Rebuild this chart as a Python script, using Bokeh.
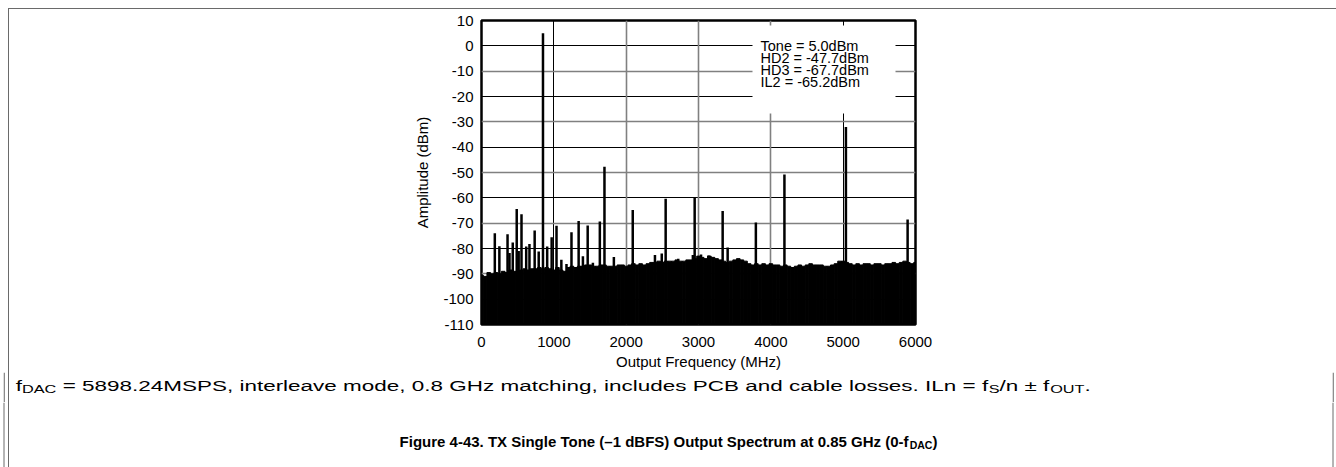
from bokeh.plotting import figure
from bokeh.models import Range1d, FixedTicker, Grid, Label, BoxAnnotation, CustomJSTickFormatter, Div
from bokeh.core.properties import value
from bokeh.embed import file_html
from bokeh.resources import INLINE

# ---------------- data ----------------
x_ticks = [0, 1000, 2000, 3000, 4000, 5000, 6000]
y_ticks = [10, 0, -10, -20, -30, -40, -50, -60, -70, -80, -90, -100, -110]

floor_freq = list(range(0, 6001, 50))
floor_db = [
    -90.5, -91.0, -89.5, -90.0, -89.5, -90.0, -89.0, -89.5, -88.5, -89.0,
    -89.0, -88.5, -88.0, -88.5, -88.0, -88.0, -87.5, -88.0, -87.5, -88.0,
    -88.5, -87.5, -88.5, -89.0, -87.5, -87.0, -87.5, -87.0, -87.0, -86.5,
    -86.5, -87.0, -87.0, -86.5, -86.5, -87.0, -87.0, -87.0, -86.5, -86.5,
    -87.0, -86.5, -86.0, -86.5, -86.0, -86.5, -86.0, -85.5, -85.5, -85.0,
    -85.5, -85.0, -85.0, -85.0, -84.5, -85.0, -85.0, -84.5, -84.5, -84.0,
    -83.0, -83.5, -84.0, -83.0, -83.5, -84.0, -84.5, -85.0, -85.5, -85.0,
    -84.5, -84.0, -84.5, -85.0, -86.0, -86.5, -86.0, -86.5, -86.0, -86.5,
    -86.0, -86.5, -86.5, -87.0, -86.5, -87.0, -87.5, -87.0, -86.5, -87.0,
    -86.5, -86.0, -86.5, -86.5, -86.5, -87.0, -87.0, -86.5, -86.0, -85.0,
    -85.0, -85.5, -86.0, -86.5, -86.0, -86.5, -86.0, -86.0, -86.5, -86.0,
    -86.0, -86.5, -86.0, -86.0, -85.5, -86.0, -85.5, -85.0, -85.5, -86.0,
    -85.5,
]

spur_freq = [184, 247, 360, 387, 432, 487, 514, 553, 618, 663, 735, 791, 850,
             908, 970, 1037, 1104, 1175, 1244, 1343, 1402, 1468, 1540, 1636,
             1700, 1830, 2091, 2398, 2492, 2546, 2720, 2922, 2947, 3035, 3140,
             3334, 3403, 3793, 4188, 4985, 5038, 5891]
spur_db = [-74.0, -79.1, -74.4, -81.8, -77.6, -64.4, -81.0, -66.5, -79.2, -78.2,
           -72.9, -81.2, 5.0, -79.2, -75.6, -71.0, -84.4, -86.1, -73.6, -69.1,
           -83.1, -70.9, -85.6, -69.3, -47.7, -83.4, -64.8, -82.6, -82.0, -60.4,
           -84.0, -82.6, -60.1, -82.4, -82.8, -65.2, -79.6, -69.7, -50.8, -85.0,
           -32.0, -68.6]

legend_lines = ["Tone = 5.0dBm", "HD2 = -47.7dBm", "HD3 = -67.7dBm", "IL2 = -65.2dBm"]

caption1 = [("f", False), ("DAC", True),
            (" = 5898.24MSPS, interleave mode, 0.8 GHz matching, includes PCB and cable losses. ILn = f", False),
            ("S", True), ("/n ± f", False), ("OUT", True), (".", False)]
caption2 = [("Figure 4-43. TX Single Tone (–1 dBFS) Output Spectrum at 0.85 GHz (0-f", False),
            ("DAC", True), (")", False)]

# ---------------- layout helpers ----------------
FONT = "Liberation Sans"
W = 1336
H1 = 372                       # chart part height
H2 = 30                        # caption-1 strip (372..402)
H3 = 467 - H1 - H2             # caption-2 strip (402..467)
FL, FR, FT, FB = 481, 915, 20, 327          # frame in page pixels
X0, X1, Y0, Y1 = 0, 6000, -110, 10
BORDER = "#6a6a6a"


def dx(px):
    return X0 + (px - FL) / (FR - FL) * (X1 - X0)


def dy(py):
    return Y1 - (py - FT) / (FB - FT) * (Y1 - Y0)


REG = {' ': 278, '(': 333, ')': 333, ',': 278, '-': 333, '.': 278, '/': 278, '=': 584,
       'A': 667, 'B': 667, 'C': 722, 'D': 722, 'F': 611, 'G': 778, 'H': 722, 'I': 278,
       'L': 556, 'M': 833, 'O': 778, 'P': 667, 'S': 667, 'T': 611, 'U': 722, 'X': 667,
       'a': 556, 'b': 556, 'c': 500, 'd': 556, 'e': 556, 'f': 278, 'g': 556, 'h': 556,
       'i': 222, 'l': 222, 'm': 833, 'n': 556, 'o': 556, 'p': 556, 'q': 556, 'r': 333,
       's': 500, 't': 278, 'u': 556, 'v': 500, 'y': 500, 'z': 500, '±': 584, '–': 556}
BOLD = {' ': 278, '(': 333, ')': 333, ',': 278, '-': 333, '.': 278, '/': 278,
        'A': 722, 'B': 722, 'C': 722, 'D': 722, 'F': 611, 'G': 778, 'H': 722, 'O': 778,
        'S': 667, 'T': 611, 'U': 722, 'X': 667, 'a': 556, 'c': 556, 'd': 611, 'e': 556,
        'f': 333, 'g': 611, 'i': 278, 'l': 278, 'm': 889, 'n': 611, 'o': 611, 'p': 611,
        'r': 389, 's': 556, 't': 333, 'u': 611, 'z': 500, '–': 556}


def tw(s, size, bold=False):
    tab = BOLD if bold else REG
    return sum(tab.get(c, 556) for c in s) * size / 1000.0


# ---------------- chart figure ----------------
p = figure(width=W, height=H1, output_backend="svg", toolbar_location=None,
           x_range=Range1d(X0, X1), y_range=Range1d(Y0, Y1),
           min_border_left=FL, min_border_right=W - FR,
           min_border_top=FT, min_border_bottom=H1 - FB)
p.background_fill_color = "white"
p.border_fill_color = "white"
p.outline_line_color = "black"
p.outline_line_width = 2.5

p.xgrid.ticker = FixedTicker(ticks=[1000, 5000])
p.xgrid.grid_line_color = "black"
p.xgrid.grid_line_width = 1
p.ygrid.ticker = FixedTicker(ticks=[0, -20, -40, -60, -80, -100])
p.ygrid.grid_line_color = "black"
p.ygrid.grid_line_width = 1
p.add_layout(Grid(dimension=0, ticker=FixedTicker(ticks=[2000, 3000, 4000]),
                  grid_line_color="#808080", grid_line_width=1.6))
p.add_layout(Grid(dimension=1, ticker=FixedTicker(ticks=[-10, -30, -50, -70, -90]),
                  grid_line_color="#808080", grid_line_width=1.6))

for ax in (p.xaxis[0], p.yaxis[0]):
    ax.axis_line_color = None
    ax.major_tick_line_color = None
    ax.minor_tick_line_color = None
    ax.major_tick_out = 0
    ax.major_tick_in = 0
    ax.major_label_text_font = FONT
    ax.major_label_text_font_size = "15px"
    ax.major_label_text_color = "black"
    ax.axis_label_text_font = FONT
    ax.axis_label_text_font_size = "15px"
    ax.axis_label_text_font_style = "normal"
    ax.axis_label_text_color = "black"
    ax.formatter = CustomJSTickFormatter(code="return tick.toFixed(0);")

p.xaxis.ticker = FixedTicker(ticks=x_ticks)
p.yaxis.ticker = FixedTicker(ticks=y_ticks)
p.xaxis.axis_label = "Output Frequency (MHz)"
p.yaxis.axis_label = "Amplitude (dBm)"
p.xaxis.major_label_standoff = 12
p.xaxis.axis_label_standoff = 3
p.yaxis.major_label_standoff = 8
p.yaxis.axis_label_standoff = 9

p.vbar(x=floor_freq, top=floor_db, bottom=-110, width=50, color="black")
p.segment(x0=spur_freq, y0=[-110] * len(spur_freq), x1=spur_freq, y1=spur_db,
          line_color="black", line_width=2.5)

p.add_layout(BoxAnnotation(left=dx(752), right=dx(895), top=dy(25), bottom=dy(114),
                           fill_color="white", fill_alpha=1.0, line_color=None))
for i, t in enumerate(legend_lines):
    p.add_layout(Label(x=dx(760), y=dy(45.3 + 12.25 * i), text=t, text_font=FONT,
                       text_font_size="14.5px", text_baseline="middle", text_color="black"))


def strip(width, height, top, xmax):
    f = figure(width=width, height=height, output_backend="svg", toolbar_location=None,
               x_range=Range1d(0, xmax), y_range=Range1d(top + height, top),
               x_axis_location=None, y_axis_location=None,
               min_border=0, min_border_left=0, min_border_right=0,
               min_border_top=0, min_border_bottom=0)
    f.grid.visible = False
    f.outline_line_color = None
    f.background_fill_color = "white"
    f.border_fill_color = "white"
    return f


def draw_pieces(fig, items, size, bold):
    fig.text(x=[a[1] for a in items], y=[a[2] for a in items], text=[a[0] for a in items],
             text_font=value(FONT), text_font_size=value(f"{size}px"),
             text_font_style="bold" if bold else "normal",
             text_baseline="alphabetic", text_align="left", text_color="black")


def lay_out(pieces, x, base, size, sub_size, sub_drop, bold):
    """Place run-on pieces; leading blanks are turned into an x advance (SVG drops them)."""
    main, subs = [], []
    for t, s in pieces:
        sz = sub_size if s else size
        lead = len(t) - len(t.lstrip(" "))
        x += tw(" " * lead, sz, bold)
        body = t.lstrip(" ")
        if s:
            subs.append((body, x, base + sub_drop))
        else:
            main.append((body, x, base))
        x += tw(body, sz, bold)
    return main, subs


# ---------------- caption 1 strip (text horizontally widened like the reference) --------
C1_SIZE, C1_SUB = 14.5, 10.5
C1_X0, C1_X1, C1_BASE = 15.0, 1090.0, 385.0
nat = sum(tw(t, C1_SUB if s else C1_SIZE) for t, s in caption1)
SX = (C1_X1 - C1_X0) / nat
w1 = int(W / SX)
# the canvas is sized from the (scaled) host box, so one data unit = one canvas pixel
q1 = strip(w1, H2, H1, w1 * SX)
q1.styles = {"transform": f"scaleX({SX:.4f})", "transform-origin": "0 0", "overflow": "hidden"}
q1.segment(x0=[3.5 / SX, 1332.5 / SX], y0=[H1, H1], x1=[3.5 / SX, 1332.5 / SX],
           y1=[H1 + H2, H1 + H2], line_color=BORDER, line_width=1 / SX)
m1, s1 = lay_out(caption1, C1_X0 / SX, C1_BASE, C1_SIZE, C1_SUB, 4, False)
draw_pieces(q1, m1, C1_SIZE, False)
draw_pieces(q1, s1, C1_SUB, False)

# ---------------- caption 2 strip ----------------
q2 = strip(W, H3, H1 + H2, W)
q2.segment(x0=[3.5, 1332.5], y0=[H1 + H2, H1 + H2], x1=[3.5, 1332.5], y1=[467, 467],
           line_color=BORDER, line_width=1)
C2_SIZE, C2_SUB, C2_CX, C2_BASE = 15, 10.5, 668.0, 441.0
total = sum(tw(t, C2_SUB if s else C2_SIZE, True) for t, s in caption2)
m2, s2 = lay_out(caption2, C2_CX - total / 2, C2_BASE, C2_SIZE, C2_SUB, 3.5, True)
draw_pieces(q2, m2, C2_SIZE, True)
draw_pieces(q2, s2, C2_SUB, True)

# page border (top and sides) as a fixed overlay box
border = Div(text="", width=1330, height=470,
             styles={"position": "fixed", "left": "3px", "top": "3px", "z-index": "10",
                     "border-top": f"1px solid {BORDER}", "border-left": f"1px solid {BORDER}",
                     "border-right": f"1px solid {BORDER}", "box-sizing": "border-box",
                     "pointer-events": "none"})

open("out.html", "w").write(file_html([p, q1, q2, border], INLINE))
